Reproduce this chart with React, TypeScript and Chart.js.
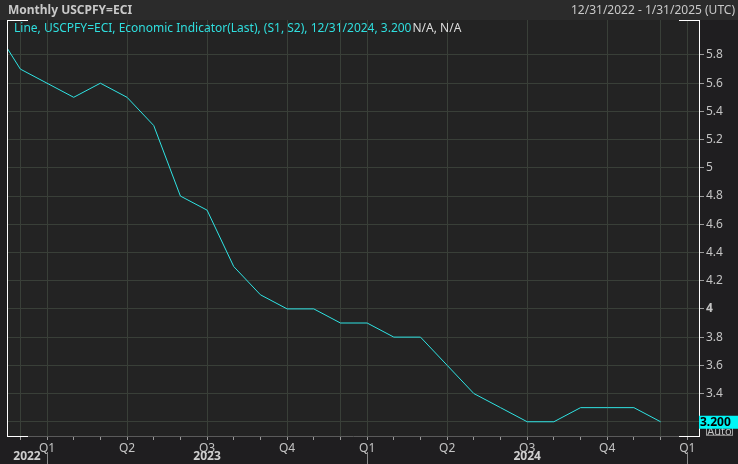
import React, { useEffect, useRef } from "react";
import { Chart, registerables } from "chart.js";

Chart.register(...registerables);

const periods = [
  "Nov 2022", "Dec 2022", "Jan 2023", "Feb 2023", "Mar 2023", "Apr 2023", "May 2023",
  "Jun 2023", "Jul 2023", "Aug 2023", "Sep 2023", "Oct 2023", "Nov 2023", "Dec 2023",
  "Jan 2024", "Feb 2024", "Mar 2024", "Apr 2024", "May 2024", "Jun 2024", "Jul 2024",
  "Aug 2024", "Sep 2024", "Oct 2024", "Nov 2024", "Dec 2024", "Jan 2025",
];
const coreCpiYoY = [
  6.0, 5.7, 5.6, 5.5, 5.6, 5.5, 5.3, 4.8, 4.7, 4.3, 4.1, 4.0, 4.0, 3.9, 3.9, 3.8, 3.8,
  3.6, 3.4, 3.3, 3.2, 3.2, 3.3, 3.3, 3.3, 3.2,
];
const quarterOfMonth: Record<string, string> = { Jan: "Q1", Apr: "Q2", Jul: "Q3", Oct: "Q4" };
const yTickValues = [3.2, 3.4, 3.6, 3.8, 4.0, 4.2, 4.4, 4.6, 4.8, 5.0, 5.2, 5.4, 5.6, 5.8];
const yearLabels = ["2022", "2023", "2024"];

const TITLE = "Monthly USCPFY=ECI";
const RANGE = "12/31/2022 - 1/31/2025 (UTC)";
const LEGEND_MAIN = "Line, USCPFY=ECI, Economic Indicator(Last), (S1, S2), 12/31/2024, 3.200";
const LEGEND_TAIL = "N/A, N/A";

const FONT = "'Noto Sans', 'DejaVu Sans', sans-serif";
const X_MIN = 0.5;
const X_MAX = 26.44;
const Y_MIN = 3.099;
const Y_MAX = 6.048;

const monthOf = (i: number) => (periods[i] || "").slice(0, 3);
const isGridMonth = (i: number) => {
  const m = monthOf(i);
  return m === "Jan" || m === "Apr" || m === "Jul" || m === "Oct" || m === "Dec";
};

const deco = {
  id: "deco",
  beforeDraw(chart: any) {
    const { ctx, width, height, chartArea: a } = chart;
    ctx.save();
    ctx.fillStyle = "#1f1e20";
    ctx.fillRect(0, 0, width, height);
    ctx.fillStyle = "#2b2b2b";
    ctx.fillRect(0, 0, width, 20);
    ctx.fillStyle = "#232323";
    ctx.fillRect(a.left, a.top, a.right - a.left, a.bottom - a.top);
    ctx.restore();
  },
  afterDraw(chart: any) {
    const { ctx, width, chartArea: a } = chart;
    const xs = chart.scales.x;
    const ys = chart.scales.y;
    ctx.save();
    // header
    ctx.textBaseline = "middle";
    ctx.font = `bold 12px ${FONT}`;
    ctx.fillStyle = "#c9c9c9";
    ctx.textAlign = "left";
    ctx.fillText(TITLE, 8, 11);
    ctx.font = `12px ${FONT}`;
    ctx.textAlign = "right";
    ctx.fillText(RANGE, width - 3, 11);
    // legend
    ctx.textAlign = "left";
    ctx.font = `12px ${FONT}`;
    ctx.fillStyle = "#2fdede";
    ctx.fillText(LEGEND_MAIN, 14, 29);
    const w = ctx.measureText(LEGEND_MAIN).width;
    ctx.fillStyle = "#dcdcdc";
    ctx.fillText(LEGEND_TAIL, 14 + w + 1, 29);
    // white brackets
    ctx.strokeStyle = "#ffffff";
    ctx.lineWidth = 1;
    ctx.beginPath();
    ctx.moveTo(a.left + 0.5, a.top + 0.5);
    ctx.lineTo(a.left + 0.5, a.bottom + 0.5);
    ctx.moveTo(a.left, a.top + 0.5);
    ctx.lineTo(a.left + 21, a.top + 0.5);
    ctx.moveTo(a.left, a.bottom + 0.5);
    ctx.lineTo(a.left + 21, a.bottom + 0.5);
    ctx.moveTo(a.right - 20, a.top + 0.5);
    ctx.lineTo(a.right, a.top + 0.5);
    ctx.moveTo(a.right - 20, a.bottom + 0.5);
    ctx.lineTo(a.right, a.bottom + 0.5);
    ctx.stroke();
    // year labels and separators
    const janIdx = periods.map((p, i) => (p.startsWith("Jan") ? i : -1)).filter((i) => i >= 0);
    ctx.strokeStyle = "#8a8a8a";
    ctx.beginPath();
    janIdx.forEach((i) => {
      const px = Math.round(xs.getPixelForValue(i)) + 0.5;
      ctx.moveTo(px, 452);
      ctx.lineTo(px, 464);
    });
    ctx.stroke();
    ctx.font = `bold 12px ${FONT}`;
    ctx.fillStyle = "#d0d0d0";
    ctx.textAlign = "center";
    yearLabels.forEach((y) => {
      const start = periods.findIndex((p) => p.endsWith(y));
      const from = Math.max(X_MIN, start);
      const nextJan = periods.findIndex((p) => p === "Jan " + (Number(y) + 1));
      const to = Math.min(X_MAX, nextJan);
      const cx = (xs.getPixelForValue(from) + xs.getPixelForValue(to)) / 2;
      ctx.fillText(y, cx, 457);
    });
    // last value box
    const last = coreCpiYoY[coreCpiYoY.length - 1];
    const ly = ys.getPixelForValue(last);
    // Auto box
    ctx.fillStyle = "#1f1e20";
    ctx.fillRect(a.right + 7, ly + 5, 27, 9);
    ctx.strokeStyle = "#a0a0a0";
    ctx.strokeRect(a.right + 7.5, ly + 5.5, 26, 8);
    ctx.font = `11px ${FONT}`;
    ctx.fillStyle = "#c0c0c0";
    ctx.fillText("Auto", a.right + 20.5, ly + 10);
    ctx.fillStyle = "#00f5f5";
    ctx.fillRect(a.right, ly - 6, width - a.right, 13);
    ctx.fillStyle = "#000000";
    ctx.font = `bold 12px ${FONT}`;
    ctx.textAlign = "left";
    ctx.fillText(last.toFixed(3), a.right + 1, ly + 0.5);
    ctx.restore();
  },
};

export default function App() {
  const ref = useRef<HTMLCanvasElement>(null);
  useEffect(() => {
    document.body.style.margin = "0";
    document.body.style.background = "#1f1e20";
    const canvas = ref.current!;
    const chart = new Chart(canvas, {
      type: "line",
      data: {
        datasets: [
          {
            data: coreCpiYoY.map((v, i) => ({ x: i, y: v })),
            borderColor: "#2fe3e3",
            borderWidth: 1,
            pointRadius: 0,
            tension: 0,
            fill: false,
          },
        ],
      },
      options: {
        animation: false,
        responsive: false,
        maintainAspectRatio: false,
        layout: { padding: { left: 7, top: 20, right: 0, bottom: 0 } },
        plugins: { legend: { display: false }, tooltip: { enabled: false } },
        scales: {
          x: {
            type: "linear",
            min: X_MIN,
            max: X_MAX,
            afterBuildTicks: (s: any) => {
              s.ticks = periods.map((_, i) => ({ value: i })).filter((t) => t.value >= 1);
            },
            afterFit: (s: any) => {
              s.height = 28;
            },
            ticks: {
              autoSkip: false,
              maxRotation: 0,
              padding: 1,
              color: "#c4c4c4",
              font: { family: FONT, size: 12 },
              callback: (v: any) => quarterOfMonth[monthOf(Number(v))] || "",
            },
            grid: {
              color: (c: any) => (c.tick && isGridMonth(c.tick.value) ? "#393f38" : "rgba(0,0,0,0)"),
              tickColor: "#9a9a9a",
              tickLength: 4,
              drawOnChartArea: true,
            },
            border: { color: "#5a5a5a" },
          },
          y: {
            type: "linear",
            position: "right",
            min: Y_MIN,
            max: Y_MAX,
            afterBuildTicks: (s: any) => {
              s.ticks = yTickValues.map((v) => ({ value: v }));
            },
            afterFit: (s: any) => {
              s.width = 39;
            },
            ticks: {
              padding: 2,
              crossAlign: "near",
              color: "#c4c4c4",
              font: (c: any) => ({
                family: FONT,
                size: 12,
                weight: c.tick && c.tick.value === 4 ? "bold" : "normal",
              }),
              callback: (v: any) => String(Number(Number(v).toFixed(1))),
            },
            grid: {
              color: "#393f38",
              tickColor: "#9a9a9a",
              tickLength: 5,
            },
            border: { color: "#ffffff" },
          },
        },
      },
      plugins: [deco],
    } as any);
    return () => chart.destroy();
  }, []);
  return <canvas ref={ref} width={738} height={464} style={{ display: "block" }} />;
}
